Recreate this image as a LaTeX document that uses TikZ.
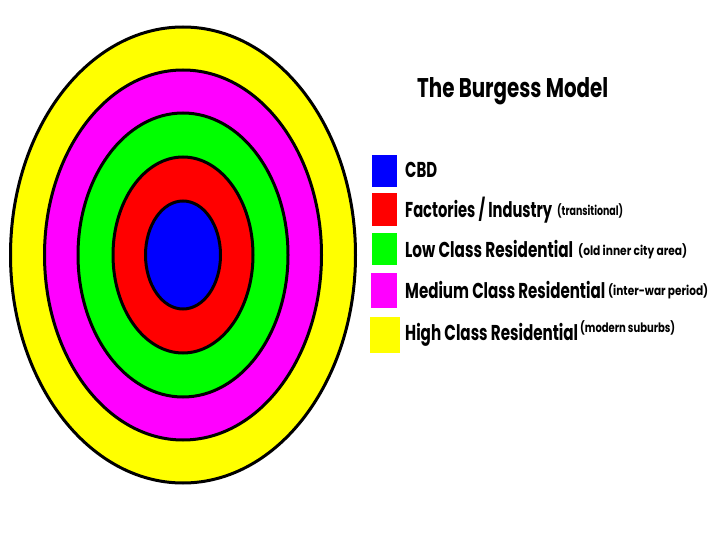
\documentclass[tikz,border=0pt]{standalone}
\usepackage{fontspec}
\setmainfont{Poppins}
\usepackage{graphicx}
\newcommand{\fitw}[2]{\resizebox{#1pt}{\height}{#2}}
\definecolor{zoneyellow}{HTML}{FFFF00}
\definecolor{zonemagenta}{HTML}{FF00FF}
\definecolor{zonegreen}{HTML}{00FF00}
\definecolor{zonered}{HTML}{FF0000}
\definecolor{zoneblue}{HTML}{0000FF}
\begin{document}
\begin{tikzpicture}[x=1pt,y=-1pt,
  ring/.style={draw=black,line width=3pt},
  bigtxt/.style={inner sep=0pt,anchor=base west,font=\fontsize{21.5}{24}\selectfont\bfseries},
  smalltxt/.style={inner sep=0pt,anchor=base west,font=\fontsize{13}{15}\selectfont\bfseries},
  titletxt/.style={inner sep=0pt,anchor=base west,font=\fontsize{27}{30}\selectfont\bfseries}]
\useasboundingbox (0,0) rectangle (720,540);
% concentric zones
\coordinate (c) at (183,255);
\draw[ring,fill=zoneyellow] (c) ellipse [x radius=172.5, y radius=228];
\draw[ring,fill=zonemagenta] (c) ellipse [x radius=138.5, y radius=185];
\draw[ring,fill=zonegreen] (c) ellipse [x radius=105, y radius=142];
\draw[ring,fill=zonered] (c) ellipse [x radius=70, y radius=98];
\draw[ring,fill=zoneblue] (c) ellipse [x radius=37.5, y radius=54];
% title
\node[titletxt] (title) at (417,98) {\fitw{191}{The Burgess Model}};
% legend swatches
\fill[zoneblue] (372,155) rectangle (397,187);
\fill[zonered] (372,193) rectangle (397,226);
\fill[zonegreen] (372,233) rectangle (397,265);
\fill[zonemagenta] (371,273) rectangle (397,308);
\fill[zoneyellow] (370,317) rectangle (400,353);
% legend text
\node[bigtxt] (l1) at (405,178) {\fitw{32}{CBD}};
\node[bigtxt] (l2) at (405,217) {\fitw{147}{Factories / Industry}};
\node[smalltxt] (s2) at (557,216) {\fitw{66}{(transitional)}};
\node[bigtxt] (l3) at (405,257) {\fitw{168}{Low Class Residential}};
\node[smalltxt] (s3) at (578,255) {\fitw{109}{(old inner city area)}};
\node[bigtxt] (l4) at (405,298) {\fitw{200}{Medium Class Residential}};
\node[smalltxt] (s4) at (608,295) {\fitw{100}{(inter-war period)}};
\node[bigtxt] (l5) at (405,340) {\fitw{173}{High Class Residential}};
\node[smalltxt] (s5) at (580,332) {\fitw{95}{(modern suburbs)}};
\end{tikzpicture}
\end{document}
